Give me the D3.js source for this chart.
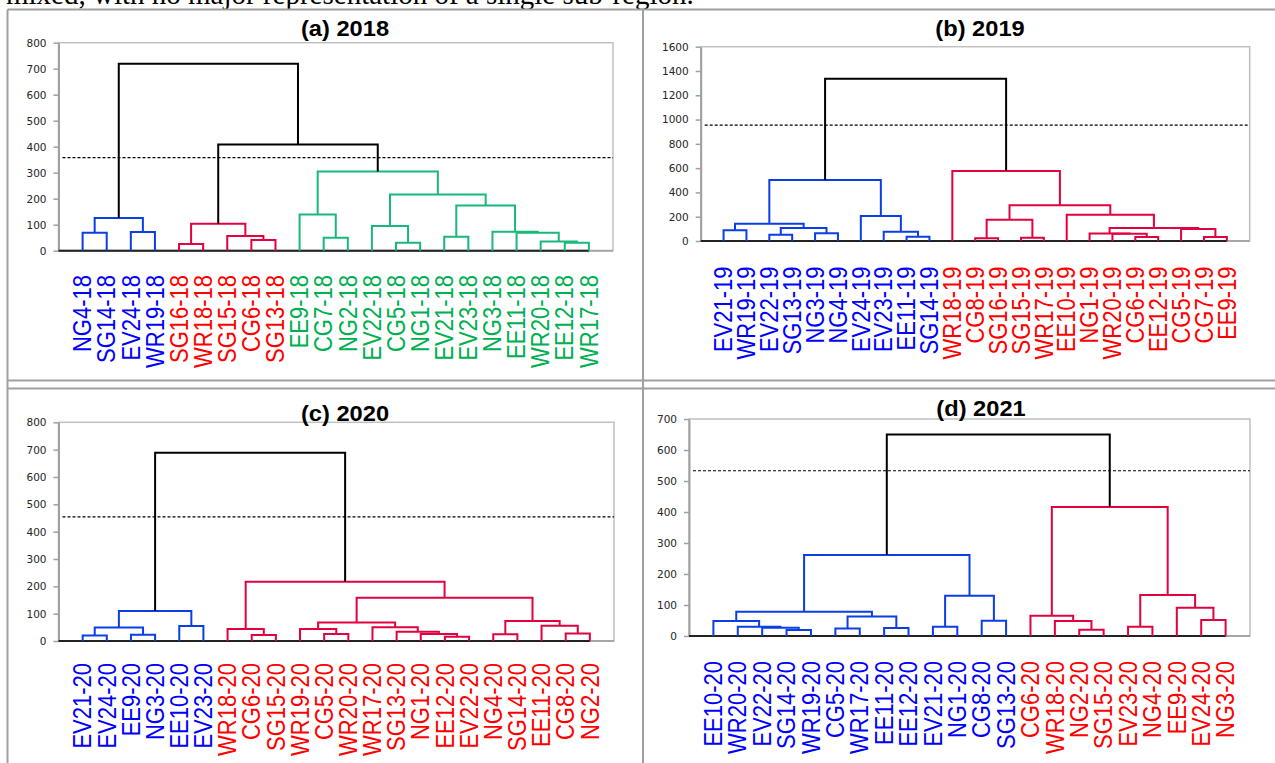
<!DOCTYPE html>
<html>
<head>
<meta charset="utf-8">
<script src="https://cdn.jsdelivr.net/npm/d3@7/dist/d3.min.js"></script>
<style>
  body { margin: 0; background: #fff; }
  svg { display: block; }
</style>
</head>
<body>
<svg id="fig" width="1275" height="763"></svg>
<script>
// (a) 2018
var labelsA = ['NG4-18', 'SG14-18', 'EV24-18', 'WR19-18', 'SG16-18', 'WR18-18', 'SG15-18', 'CG6-18', 'SG13-18',
  'EE9-18', 'CG7-18', 'NG2-18', 'EV22-18', 'CG5-18', 'NG1-18', 'EV21-18', 'EV23-18', 'NG3-18', 'EE11-18',
  'WR20-18', 'EE12-18', 'WR17-18']
var groupsA = ['B', 'B', 'B', 'B', 'R', 'R', 'R', 'R', 'R', 'G', 'G', 'G', 'G', 'G', 'G', 'G', 'G', 'G', 'G', 'G', 'G', 'G']
// nested merges: [left, right, height]
var treeA = [
  [['NG4-18', 'SG14-18', 69], ['EV24-18', 'WR19-18', 72], 126],
  [
    [['SG16-18', 'WR18-18', 26], ['SG15-18', ['CG6-18', 'SG13-18', 41], 57], 104],
    [['EE9-18', ['CG7-18', 'NG2-18', 50], 139],
      [['EV22-18', ['CG5-18', 'NG1-18', 31], 95],
        [['EV21-18', 'EV23-18', 54],
          ['NG3-18', ['EE11-18', ['WR20-18', ['EE12-18', 'WR17-18', 31], 35], 69], 73], 174], 216], 305],
    408],
  719]
var cutA = 358
var ticksA = [0, 100, 200, 300, 400, 500, 600, 700, 800]

// (b) 2019
var labelsB = ['EV21-19', 'WR19-19', 'EV22-19', 'SG13-19', 'NG3-19', 'NG4-19', 'EV24-19', 'EV23-19', 'EE11-19',
  'SG14-19', 'WR18-19', 'CG8-19', 'SG16-19', 'SG15-19', 'WR17-19', 'EE10-19', 'NG1-19', 'WR20-19', 'CG6-19',
  'EE12-19', 'CG5-19', 'CG7-19', 'EE9-19']
var groupsB = ['B', 'B', 'B', 'B', 'B', 'B', 'B', 'B', 'B', 'B', 'R', 'R', 'R', 'R', 'R', 'R', 'R', 'R', 'R', 'R', 'R', 'R', 'R']
var treeB = [
  [[['EV21-19', 'WR19-19', 88], [['EV22-19', 'SG13-19', 52], ['NG3-19', 'NG4-19', 63], 107], 143],
    ['EV24-19', ['EV23-19', ['EE11-19', 'SG14-19', 36], 77], 206], 502],
  ['WR18-19',
    [[['CG8-19', 'SG16-19', 22], ['SG15-19', 'WR17-19', 27], 176],
      ['EE10-19',
        [['NG1-19', ['WR20-19', ['CG6-19', 'EE12-19', 33], 59], 61],
          ['CG5-19', ['CG7-19', 'EE9-19', 33], 99], 107], 217], 294], 577],
  1337]
var cutB = 955
var ticksB = [0, 200, 400, 600, 800, 1000, 1200, 1400, 1600]

// (c) 2020
var labelsC = ['EV21-20', 'EV24-20', 'EE9-20', 'NG3-20', 'EE10-20', 'EV23-20', 'WR18-20', 'CG6-20', 'SG15-20',
  'WR19-20', 'CG5-20', 'WR20-20', 'WR17-20', 'SG13-20', 'NG1-20', 'EE12-20', 'EV22-20', 'NG4-20', 'SG14-20',
  'EE11-20', 'CG8-20', 'NG2-20']
var groupsC = ['B', 'B', 'B', 'B', 'B', 'B', 'R', 'R', 'R', 'R', 'R', 'R', 'R', 'R', 'R', 'R', 'R', 'R', 'R', 'R', 'R', 'R']
var treeC = [
  [[['EV21-20', 'EV24-20', 20], ['EE9-20', 'NG3-20', 23], 49], ['EE10-20', 'EV23-20', 55], 110],
  [['WR18-20', ['CG6-20', 'SG15-20', 22], 44],
    [[['WR19-20', ['CG5-20', 'WR20-20', 26], 44],
        ['WR17-20', ['SG13-20', ['NG1-20', ['EE12-20', 'EV22-20', 16], 26], 34], 50], 68],
      [['NG4-20', 'SG14-20', 25], ['EE11-20', ['CG8-20', 'NG2-20', 27], 56], 73], 158], 217],
  689]
var cutC = 454
var ticksC = [0, 100, 200, 300, 400, 500, 600, 700, 800]

// (d) 2021
var labelsD = ['EE10-20', 'WR20-20', 'EV22-20', 'SG14-20', 'WR19-20', 'CG5-20', 'WR17-20', 'EE11-20', 'EE12-20',
  'EV21-20', 'NG1-20', 'CG8-20', 'SG13-20', 'CG6-20', 'WR18-20', 'NG2-20', 'SG15-20', 'EV23-20', 'NG4-20',
  'EE9-20', 'EV24-20', 'NG3-20']
var groupsD = ['B', 'B', 'B', 'B', 'B', 'B', 'B', 'B', 'B', 'B', 'B', 'B', 'B', 'R', 'R', 'R', 'R', 'R', 'R', 'R', 'R', 'R']
var treeD = [
  [[['EE10-20', ['WR20-20', ['EV22-20', ['SG14-20', 'WR19-20', 19], 27], 30], 48],
      [['CG5-20', 'WR17-20', 24], ['EE11-20', 'EE12-20', 26], 63], 78],
    [['EV21-20', 'NG1-20', 30], ['CG8-20', 'SG13-20', 49], 130], 261],
  [['CG6-20', ['WR18-20', ['NG2-20', 'SG15-20', 20], 48], 65],
    [['EV23-20', 'NG4-20', 30], ['EE9-20', ['EV24-20', 'NG3-20', 52], 91], 132], 416],
  650]
var cutD = 533
var ticksD = [0, 100, 200, 300, 400, 500, 600, 700]

var labelColor = { B: '#0000ff', R: '#ff0000', G: '#00b050' }
var linkColor = { B: '#0a3ee6', R: '#e2003f', G: '#18b87a' }

var panels = [
  { title: '(a) 2018', labels: labelsA, groups: groupsA, tree: treeA, cut: cutA, ticks: ticksA,
    x0: 58.5, x1: 613, y0: 250.7, y1: 42.7, titleX: 345, titleY: 36, labelTop: 275 },
  { title: '(b) 2019', labels: labelsB, groups: groupsB, tree: treeB, cut: cutB, ticks: ticksB,
    x0: 700.7, x1: 1249.7, y0: 241, y1: 46.7, titleX: 980, titleY: 36, labelTop: 266.5 },
  { title: '(c) 2020', labels: labelsC, groups: groupsC, tree: treeC, cut: cutC, ticks: ticksC,
    x0: 58.5, x1: 614, y0: 641, y1: 422.3, titleX: 345, titleY: 420.5, labelTop: 663 },
  { title: '(d) 2021', labels: labelsD, groups: groupsD, tree: treeD, cut: cutD, ticks: ticksD,
    x0: 689, x1: 1250, y0: 636, y1: 419, titleX: 981, titleY: 415.5, labelTop: 661 }
]

var svg = d3.select('#fig')

// sentence of the page, cut off above the figure (as in the source)
svg.append('text')
  .attr('x', 6)
  .attr('y', 4)
  .style('font-family', '"Liberation Serif", "Times New Roman", serif')
  .style('font-size', '29px')
  .text('mixed, with no major representation of a single sub-region.')

// table borders
var border = svg.append('g')
  .style('stroke', '#a0a0a0')
  .style('stroke-width', 2)
border.append('line').attr('x1', 7.5).attr('x2', 1275).attr('y1', 9.5).attr('y2', 9.5)
border.append('line').attr('x1', 7.5).attr('x2', 7.5).attr('y1', 9.5).attr('y2', 763)
border.append('line').attr('x1', 643).attr('x2', 643).attr('y1', 9.5).attr('y2', 763)
border.append('line').attr('x1', 7.5).attr('x2', 1275).attr('y1', 380.5).attr('y2', 380.5)
border.append('line').attr('x1', 7.5).attr('x2', 1275).attr('y1', 388.5).attr('y2', 388.5)

panels.forEach(function(p) {
  var g = svg.append('g')

  var xScale = d3.scalePoint()
    .domain(p.labels)
    .range([p.x0, p.x1])
    .padding(1)

  var yMax = p.ticks[p.ticks.length - 1]
  var yScale = d3.scaleLinear()
    .domain([0, yMax])
    .range([p.y0, p.y1])

  // plot frame
  g.append('rect')
    .attr('x', p.x0)
    .attr('y', p.y1)
    .attr('width', p.x1 - p.x0)
    .attr('height', p.y0 - p.y1)
    .style('fill', 'none')
    .style('stroke', '#c0c0c0')
    .style('stroke-width', 1.5)

  // horizontal axis line
  g.append('line')
    .attr('x1', p.x0).attr('x2', p.x1)
    .attr('y1', yScale(0)).attr('y2', yScale(0))
    .style('stroke', '#a6a6a6')
    .style('stroke-width', 2)

  // Y axis
  var yAxis = d3.axisLeft(yScale)
    .tickValues(p.ticks)
    .tickFormat(d3.format('d'))
    .tickSize(5)
    .tickSizeOuter(0)
    .tickPadding(7)

  var ax = g.append('g')
    .attr('transform', `translate(${p.x0},0)`)
    .call(yAxis)
  ax.select('.domain').style('stroke', '#a0a0a0').style('stroke-width', 2)
  ax.selectAll('.tick line').style('stroke', '#a0a0a0').style('stroke-width', 1.5)
  ax.selectAll('.tick text')
    .style('font-family', '"DejaVu Sans", Verdana, sans-serif')
    .style('font-size', '10.5px')
    .style('fill', '#262626')

  // cut-off line
  g.append('line')
    .attr('x1', p.x0 + 4).attr('x2', p.x1)
    .attr('y1', yScale(p.cut)).attr('y2', yScale(p.cut))
    .style('stroke', '#000')
    .style('stroke-width', 1.2)
    .style('stroke-dasharray', '3,2')

  // dendrogram
  var root = d3.hierarchy(p.tree, d => Array.isArray(d) ? [d[0], d[1]] : null)
  root.eachAfter(function(n) {
    if (!n.children) {
      n.px = xScale(n.data)
      n.h = 0
      n.grp = p.groups[p.labels.indexOf(n.data)]
    } else {
      n.px = d3.mean(n.children, c => c.px)
      n.h = n.data[2]
      n.grp = n.children[0].grp === n.children[1].grp ? n.children[0].grp : null
    }
  })

  // baseline drawn by the dendrogram series
  g.append('line')
    .attr('x1', p.x0).attr('x2', xScale(p.labels[p.labels.length - 1]))
    .attr('y1', yScale(0)).attr('y2', yScale(0))
    .style('stroke', '#222')
    .style('stroke-width', 2)

  var merges = root.descendants().filter(n => n.children)
  merges.sort((a, b) => a.h - b.h)

  g.append('g')
    .selectAll('path')
    .data(merges)
    .enter()
    .append('path')
    .attr('d', function(n) {
      var l = n.children[0], r = n.children[1]
      return `M${l.px},${yScale(l.h)}V${yScale(n.h)}H${r.px}V${yScale(r.h)}`
    })
    .style('fill', 'none')
    .style('stroke', n => (n.h > p.cut || !n.grp) ? '#000' : linkColor[n.grp])
    .style('stroke-width', 2)
    .style('stroke-linejoin', 'miter')

  // leaf labels
  g.append('g')
    .selectAll('text')
    .data(p.labels)
    .enter()
    .append('text')
    .attr('transform', d => `translate(${xScale(d)},${p.labelTop}) scale(1.13,1) rotate(-90)`)
    .attr('dy', '0.35em')
    .style('text-anchor', 'end')
    .style('font-family', '"Liberation Sans", Arial, sans-serif')
    .style('font-size', '22px')
    .style('fill', (d, i) => labelColor[p.groups[i]])
    .text(d => d)

  // title
  g.append('text')
    .attr('transform', `translate(${p.titleX},${p.titleY}) scale(1.1,1)`)
    .style('text-anchor', 'middle')
    .style('font-family', '"Liberation Sans", Arial, sans-serif')
    .style('font-weight', 'bold')
    .style('font-size', '21.5px')
    .text(p.title)
})
</script>
</body>
</html>
